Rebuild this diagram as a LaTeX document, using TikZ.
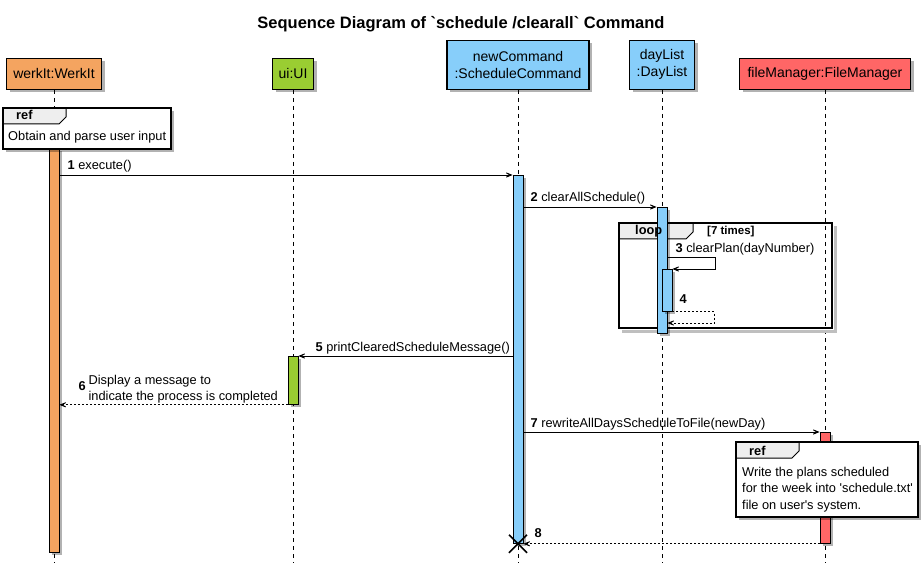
\documentclass[tikz,border=0pt]{standalone}
\usepackage{fontspec}
\setmainfont{Liberation Sans}
\usetikzlibrary{arrows.meta,positioning,calc,shadows}
\usepackage{xcolor}
\definecolor{WerkOrange}{HTML}{F4A460}
\definecolor{UiGreen}{HTML}{9ACD32}
\definecolor{CmdBlue}{HTML}{87CEFA}
\definecolor{FileRed}{HTML}{FF6666}
\definecolor{TabGrey}{HTML}{EEEEEE}
\newcommand{\seqtxt}{\fontsize{12.8}{16.5}\selectfont}
\newcommand{\seqpart}{\fontsize{14}{17}\selectfont}

\begin{document}
\begin{tikzpicture}[x=1pt,y=-1pt,
  umlshadow/.style={drop shadow={shadow xshift=3pt,shadow yshift=-3pt,opacity=0.3,fill=black}},
  part/.style={draw,line width=1.3pt,minimum height=31pt,inner sep=0pt,anchor=south,font=\seqpart,align=center,umlshadow},
  lifeline/.style={line width=0.7pt,dash pattern=on 4pt off 4pt},
  actbar/.style={draw,line width=0.8pt,minimum width=10pt,inner sep=0pt,anchor=north,umlshadow},
  msg/.style={-{Stealth[length=11pt,width=9pt,inset=7.5pt]},line width=0.8pt},
  ret/.style={msg,dash pattern=on 2pt off 2pt},
  lbl/.style={font=\seqtxt,anchor=base west,inner sep=0pt},
  tag/.style={lbl,font=\seqtxt\bfseries},
  seqframe/.style n args={3}{draw,line width=2pt,anchor=north west,inner sep=0pt,
    minimum width=#1,minimum height=#2,
    path picture={\fill[TabGrey] (path picture bounding box.north west) -- ++(#3,0) -- ++(0,9) -- ++(-7,7) -- ++({7-#3},0) -- cycle;
      \draw[line width=1pt] (path picture bounding box.north west) ++(#3,0) -- ++(0,9) -- ++(-7,7) -- ++({7-#3},0);}}]
\useasboundingbox (0,0) rectangle (922,567);
\node[font=\fontsize{16.5}{20}\selectfont\bfseries] (title) at (461,24) {Sequence Diagram of \textasciigrave schedule /clearall\textasciigrave{} Command};

\node[part,fill=WerkOrange,minimum width=95pt] (werkit) at (54,90) {werkIt:WerkIt};
\node[part,fill=UiGreen,minimum width=41pt] (ui) at (293,90) {ui:UI};
\node[part,fill=CmdBlue,minimum width=142pt,minimum height=49pt] (cmd) at (518,90) {newCommand\\:ScheduleCommand};
\node[part,fill=CmdBlue,minimum width=65pt,minimum height=49pt] (daylist) at (662,90) {dayList\\:DayList};
\node[part,fill=FileRed,minimum width=171pt] (filemgr) at (825,90) {fileManager:FileManager};
\foreach \p in {werkit,ui,cmd,daylist,filemgr}
  \draw[lifeline] (\p.south) -- ++(0,473);

\node[seqframe={213pt}{105pt}{74}] (loop) at (618,222) {};
\draw[black!25,line width=2.5pt] ($(loop.north east)+(2.5,4)$) |- ($(loop.south west)+(4,2.5)$);

\node[actbar,fill=WerkOrange,minimum height=404pt] (actW) at (werkit.south |- 0,148) {};
\node[actbar,fill=CmdBlue,minimum height=368pt] (actC) at (cmd.south |- 0,175) {};
\node[actbar,fill=CmdBlue,minimum height=126pt] (actD) at (daylist.south |- 0,207) {};
\node[actbar,fill=CmdBlue,minimum height=42pt,xshift=5pt] (actD2) at (daylist.south |- 0,269) {};
\node[actbar,fill=UiGreen,minimum height=48pt] (actU) at (ui.south |- 0,356) {};
\node[actbar,fill=FileRed,minimum height=111pt] (actF) at (filemgr.south |- 0,432) {};

\node[tag] (looptag) at ($(loop.north west)+(17,13)$) {loop};
\node[tag,font=\fontsize{11.5}{14}\selectfont\bfseries] (loopcond) at ($(loop.north west)+(89,12)$) {[7 times]};

\draw[msg] (actW.east |- actC.north) -- (actC.north west);
\node[lbl] (m1) at ($(actW.east |- actC.north)+(8,-5)$) {\textbf{1} execute()};
\draw[msg] (actC.east |- actD.north) -- (actD.north west);
\node[lbl] (m2) at ($(actC.east |- actD.north)+(7,-5)$) {\textbf{2} clearAllSchedule()};
\draw[msg] (actD.east |- 0,257) -- ++(48,0) |- (actD2.north east);
\node[lbl] (m3) at ($(actD.east |- 0,257)+(8,-5)$) {\textbf{3} clearPlan(dayNumber)};
\draw[ret] (actD2.south east) -- ++(42,0) |- (actD.east |- 0,323);
\node[tag] (m4) at ($(actD2.south east)+(7,-8)$) {4};
\draw[msg] (actC.west |- actU.north) -- (actU.north east);
\node[lbl] (m5) at ($(actU.north east)+(17,-5)$) {\textbf{5} printClearedScheduleMessage()};
\draw[ret] (actU.south west) -- (actW.east |- actU.south);
\node[tag] (m6) at ($(actW.east |- actU.south)+(19,-14)$) {6};
\node[lbl,anchor=north west,align=left] (m6txt) at ($(actW.east |- actU.south)+(29,-30)$) {Display a message to\\indicate the process is completed};
\draw[msg] (actC.east |- actF.north) -- (actF.north west);
\node[lbl] (m7) at ($(actC.east |- actF.north)+(7,-5)$) {\textbf{7} rewriteAllDaysScheduleToFile(newDay)};
\draw[ret] (actF.south west) -- (actC.south east);
\node[tag] (m8) at ($(actC.south east)+(11,-6)$) {8};
\draw[line width=1.6pt] ($(actC.south)+(-9,-9)$) -- ($(actC.south)+(9,9)$)
  ($(actC.south)+(-9,9)$) -- ($(actC.south)+(9,-9)$);

\node[seqframe={168pt}{41pt}{63},fill=white,umlshadow] (ref1) at (2,107) {};
\node[tag] (ref1tag) at ($(ref1.north west)+(14,13)$) {ref};
\node[lbl] (ref1txt) at ($(ref1.north west)+(6,34)$) {Obtain and parse user input};
\node[seqframe={182pt}{75pt}{63},fill=white,umlshadow] (ref2) at (735,441) {};
\node[tag] (ref2tag) at ($(ref2.north west)+(14,14)$) {ref};
\node[lbl,anchor=north west,align=left] (ref2txt) at ($(ref2.north west)+(7,26)$) {Write the plans scheduled\\for the week into \textquotesingle schedule.txt\textquotesingle\\file on user\textquotesingle s system.};
\end{tikzpicture}
\end{document}
